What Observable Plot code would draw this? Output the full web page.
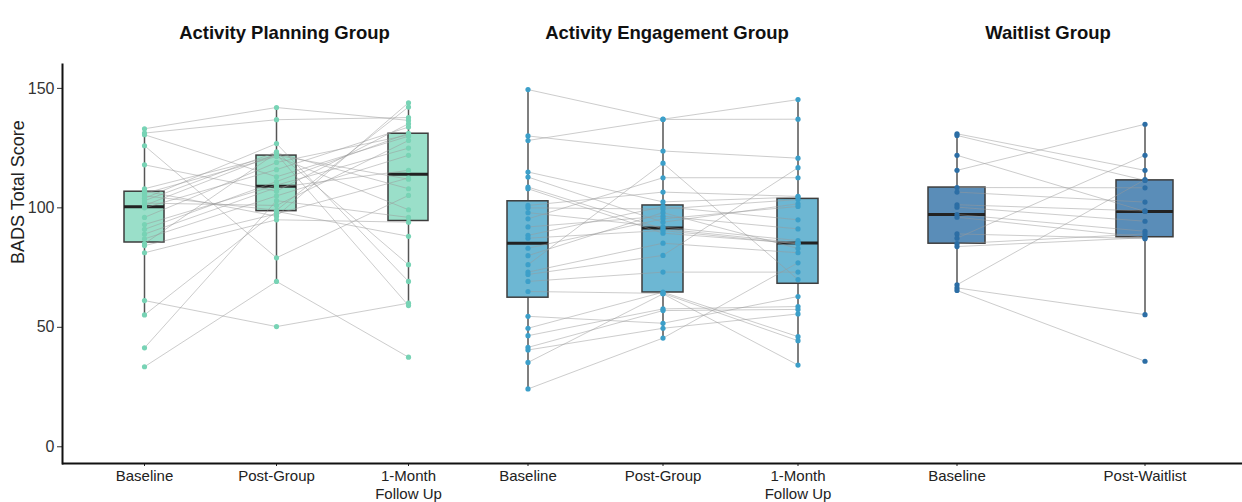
<!DOCTYPE html>
<html><head><meta charset="utf-8">
<script src="https://cdn.jsdelivr.net/npm/d3@7"></script>
<script src="https://cdn.jsdelivr.net/npm/@observablehq/plot@0.6"></script>
<style>
html,body{margin:0;padding:0;background:#fff;}
#chart{display:flex;width:1242px;height:502px;font-family:"Liberation Sans",Arial,sans-serif;}
</style></head><body><div id="chart"></div>
<script>
const panelTitles = ["Activity Planning Group", "Activity Engagement Group", "Waitlist Group"];
const groupTimes = ["Baseline", "Post-Group", "1-Month Follow Up"];
const waitTimes = ["Baseline", "Post-Waitlist"];
const tickLabels = {"Baseline": "Baseline", "Post-Group": "Post-Group", "1-Month Follow Up": "1-Month\nFollow Up", "Post-Waitlist": "Post-Waitlist"};
const yTicks = [0, 50, 100, 150];
const yLabel = "BADS Total Score";

// Activity Planning Group (one entry per participant, same order in each array)
const planBaseline = [133.1,131.3,130.6,126,118,108,107,106,105,104,103,102,101,100,96,93,91,89,87,85,84.2,81.2,61.2,55.2,41.4,33.5];
const planPost     = [142,136.9,113,79.1,107,122,96.5,121.5,99,126.9,123.4,101,122.5,116,119,109.5,111,108.5,105,123,97.5,95,50.3,98.5,103,69.2];
const planFollowUp = [136.6,137.8,130,105.2,135.2,112,144,99.2,142.2,69.2,76.2,128.2,59.1,133.8,130.5,125,131.2,115.7,122,108,112.5,94,60.1,88.1,96,37.5];

// Activity Engagement Group
const engageBaseline = [149.5,130.1,128.2,115,112.9,108.7,108,101,100,98,95.4,92,88.5,87.3,83.1,80,76.2,73.1,72.1,69.2,65,54.6,49.6,46.5,41.6,40.5,35.3,24.2];
const engagePost     = [137.1,123.8,137,102.5,94,91.2,89.4,106.6,99.5,92,112.6,96.5,100.5,90.5,95.4,98,118.7,85.2,80.1,73.1,64.2,51.7,64.7,57.7,57,49.6,64,45.5];
const engageFollowUp = [145.3,120.8,137.1,104.5,101.7,85.4,85.1,104.8,103.5,86.3,112.6,91.2,95,84.9,100.6,83,70,81.2,116.8,73.1,44.4,62.9,46.1,58.7,57.5,55.6,34.2,77];

// Waitlist Group
const waitBaseline = [131,130.3,122,115.7,108.5,106.6,101.3,100.3,97.2,96.1,89.1,87.3,85,83.8,67.8,66.5,65.4];
const waitPost     = [115.7,111.5,98.5,135,108.4,102.4,98.7,94.4,90.2,87.7,87.1,122,89.1,87.5,111.8,55.3,35.8];

function tidy(times, series) {
  const rows = [];
  series[0].forEach((_, i) => times.forEach((t, k) => rows.push({id: i, time: t, score: series[k][i]})));
  return rows;
}

const q1 = v => d3.quantile(v, 0.25);
const q3 = v => d3.quantile(v, 0.75);
const whiskLo = v => { const a = q1(v), b = q3(v), f = a - 1.5 * (b - a); return d3.min(v.filter(x => x >= f)); };
const whiskHi = v => { const a = q1(v), b = q3(v), f = b + 1.5 * (b - a); return d3.max(v.filter(x => x <= f)); };

const FONT = "'Liberation Sans', Arial, sans-serif";

function panel({data, times, title, width, marginLeft, range, boxFill, dotFill, showY, titleDx}) {
  return Plot.plot({
    width, height: 502,
    marginLeft, marginRight: 0, marginTop: 64, marginBottom: 39,
    style: {overflow: "visible", background: "transparent", fontFamily: FONT},
    x: {type: "band", domain: times, range, paddingInner: 0.697, paddingOuter: 0, label: null},
    y: {domain: [-7, 160], label: null, axis: null},
    marks: [
      showY ? Plot.axisY({ticks: yTicks, tickSize: 5, tickPadding: 3, fontSize: 16, color: "#333", label: null}) : null,
      Plot.axisX({tickSize: 3, tickPadding: 2, fontSize: 15, lineHeight: 1.2, color: "#222", tickFormat: d => tickLabels[d], label: null}),
      Plot.ruleX(data, Plot.groupX({y1: whiskLo, y2: whiskHi}, {x: "time", y: "score", stroke: "#555", strokeWidth: 1.5})),
      Plot.barY(data, Plot.groupX({y1: q1, y2: q3}, {x: "time", y: "score", fill: boxFill, stroke: "#3d3d3d", strokeWidth: 1.5})),
      Plot.tickY(data, Plot.groupX({y: "median"}, {x: "time", y: "score", stroke: "#222", strokeWidth: 3})),
      Plot.line(data, {x: "time", y: "score", z: "id", stroke: "#999", strokeOpacity: 0.5, strokeWidth: 1}),
      Plot.dot(data, {x: "time", y: "score", r: 2.6, fill: dotFill, stroke: null}),
      Plot.ruleY([-7], {stroke: "#111", strokeWidth: 2}),
      showY ? Plot.frame({anchor: "left", stroke: "#111", strokeWidth: 2}) : null,
      Plot.text([title], {frameAnchor: "top", dy: -39, dx: titleDx, fontSize: 18.5, fontWeight: "bold", fill: "#111"}),
      showY ? Plot.text([yLabel], {frameAnchor: "left", dx: -44, rotate: -90, fontSize: 18, fill: "#222"}) : null
    ]
  });
}

const chart = document.getElementById("chart");
chart.append(panel({
  data: tidy(groupTimes, [planBaseline, planPost, planFollowUp]), times: groupTimes, title: panelTitles[0],
  width: 470, marginLeft: 62, range: [123.3, 428.3], boxFill: "#9adfc9", dotFill: "#78d3b5", showY: true, titleDx: 18
}));
chart.append(panel({
  data: tidy(groupTimes, [engageBaseline, engagePost, engageFollowUp]), times: groupTimes, title: panelTitles[1],
  width: 395, marginLeft: 0, range: [36.2, 348.2], boxFill: "#6db7d3", dotFill: "#3c9fc9", showY: false, titleDx: -1
}));
chart.append(panel({
  data: tidy(waitTimes, [waitBaseline, waitPost]), times: waitTimes, title: panelTitles[2],
  width: 377, marginLeft: 0, range: [62.5, 307.8], boxFill: "#5a8db8", dotFill: "#2c6ea5", showY: false, titleDx: -6
}));
</script></body></html>
